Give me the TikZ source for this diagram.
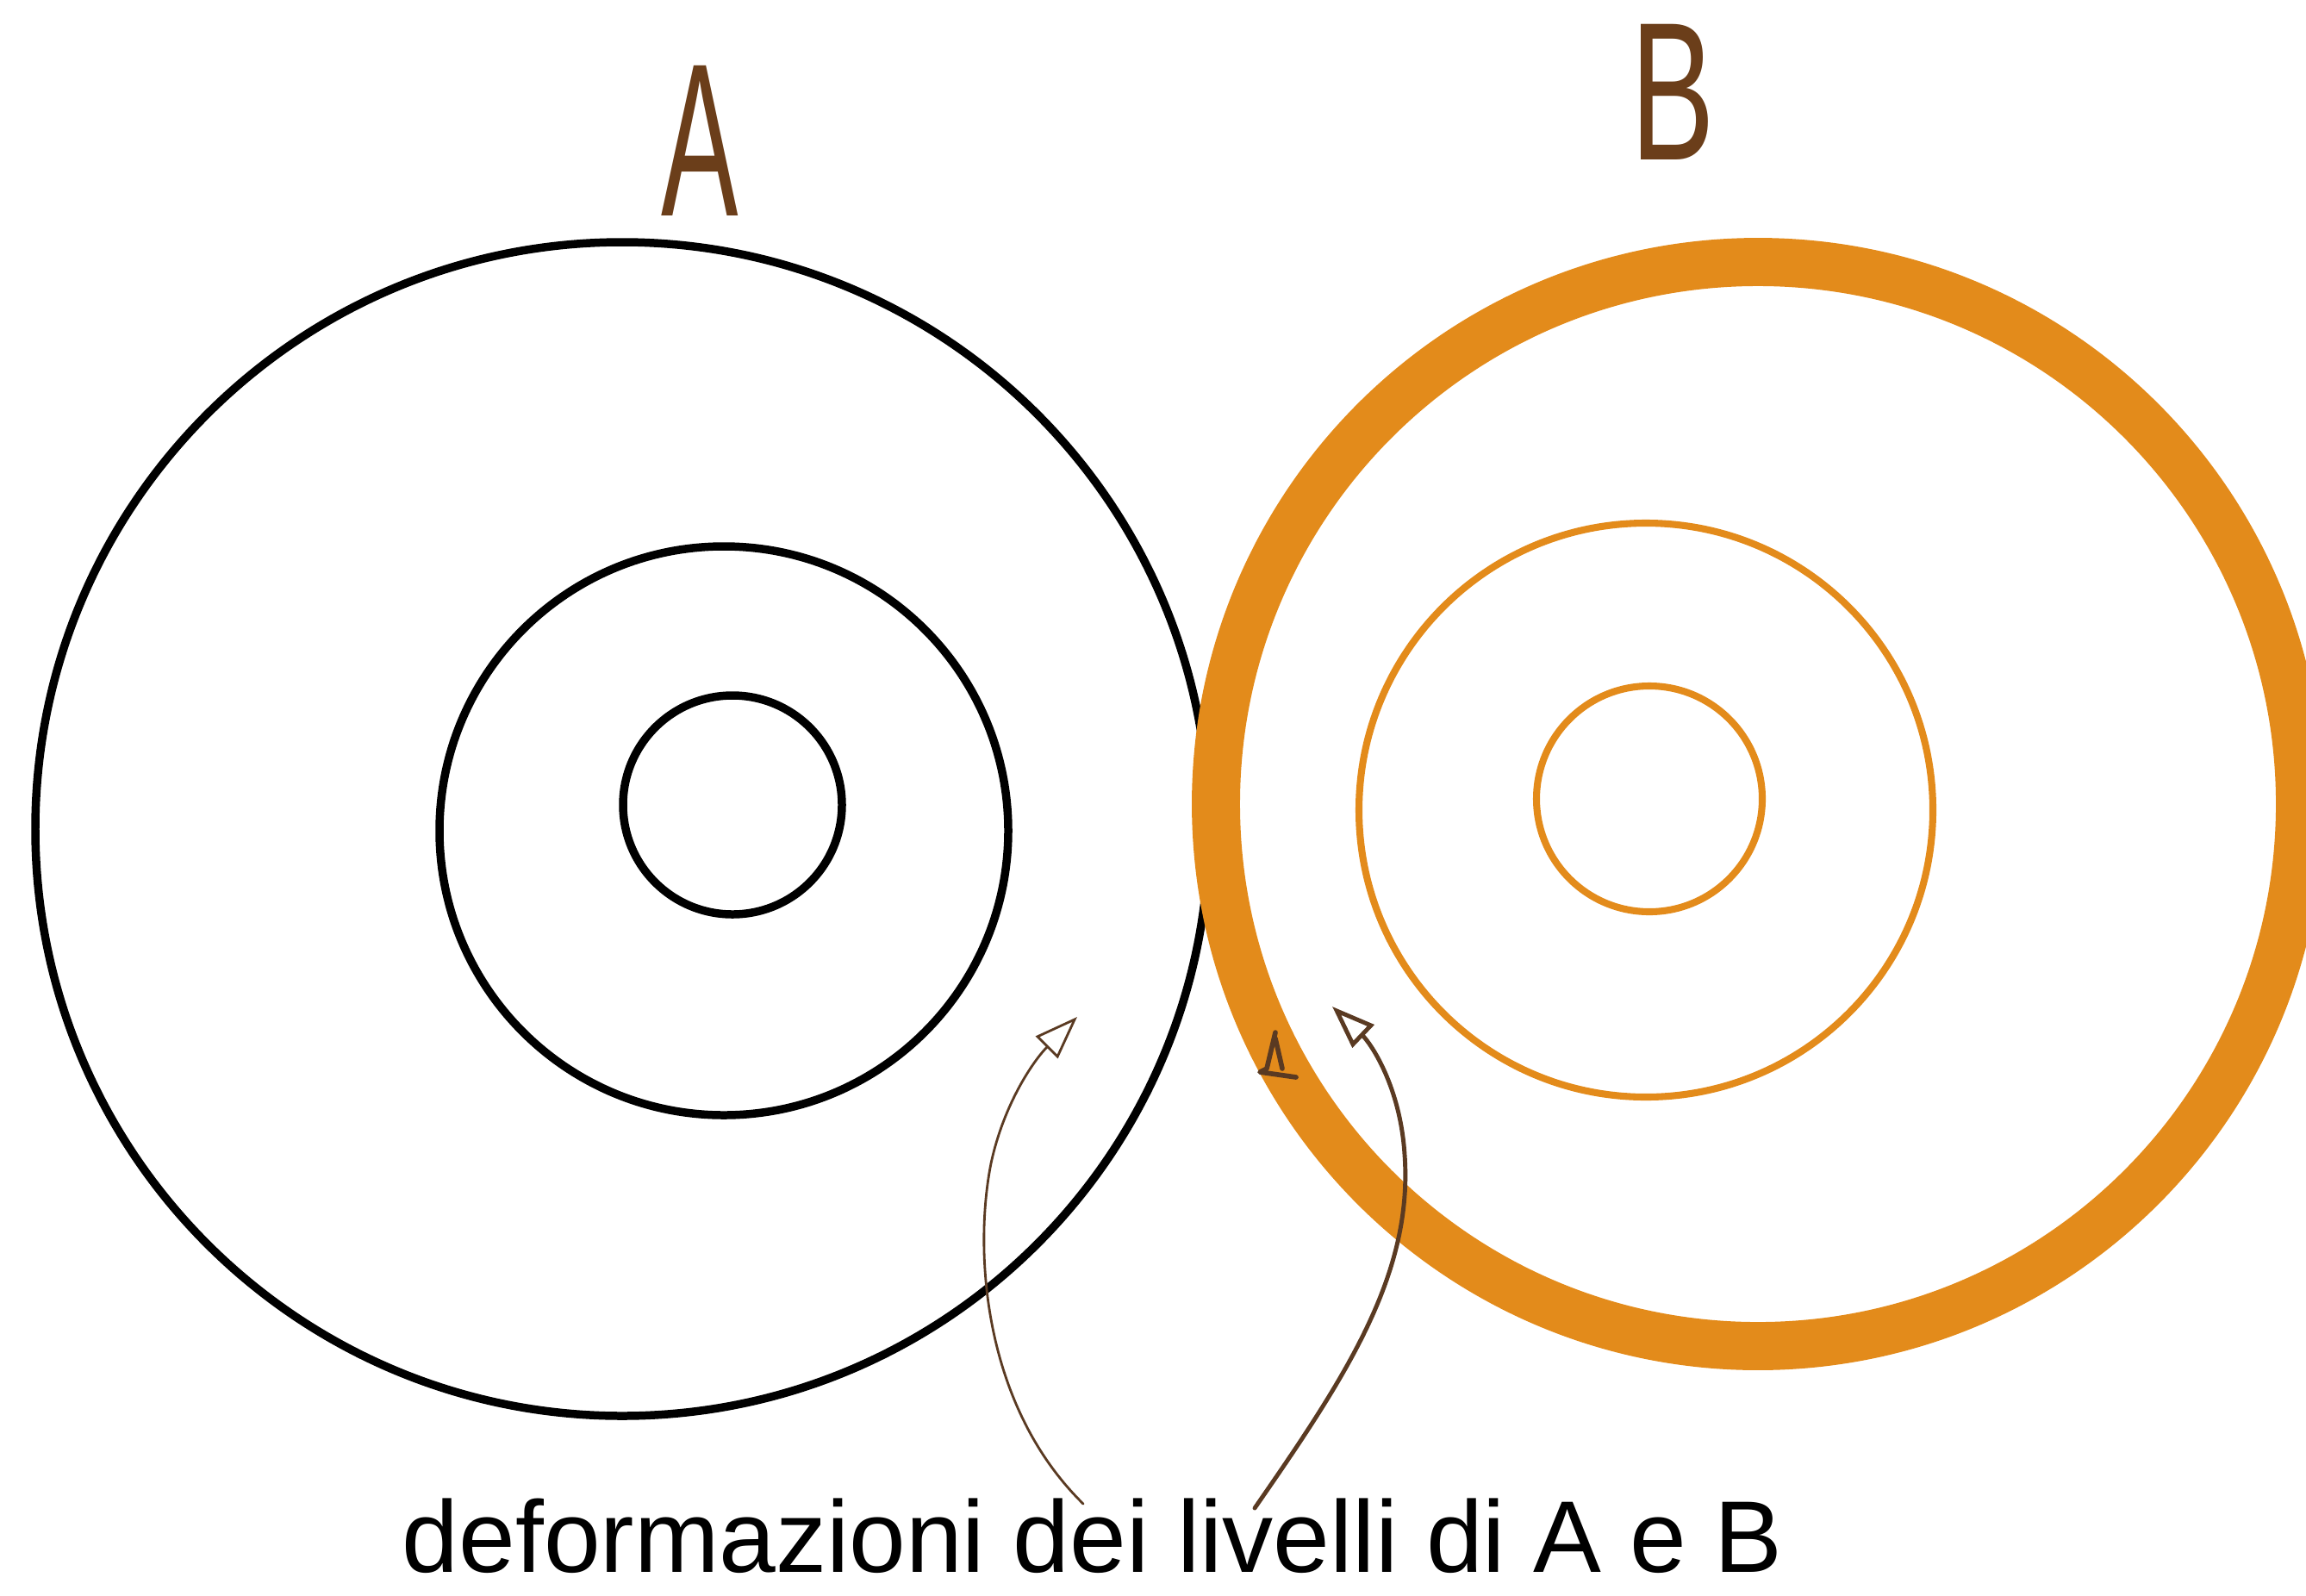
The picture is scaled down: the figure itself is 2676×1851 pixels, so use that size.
\documentclass[tikz,border=0pt]{standalone}
\usepackage{fontspec}
\setmainfont{Liberation Sans}
\usetikzlibrary{arrows.meta}
\definecolor{ringorange}{HTML}{E38B1B}
\definecolor{inkbrown}{HTML}{6B3E1A}
\definecolor{arrowbrown}{HTML}{5A3A22}

\begin{document}
\begin{tikzpicture}[x=0.01cm, y=-0.01cm,
	levelA/.style={line width=2.7pt, black},
	levelB/.style={line width=2.3pt, ringorange},
	ringB/.style={line width=15.9pt, ringorange},
	letter/.style={inkbrown, inner sep=0pt, anchor=base},
	deform/.style={arrowbrown, line cap=round, -{Triangle[open, length=5mm, width=3.6mm]}}]
	\useasboundingbox (0,0) rectangle (2676,1851);
	\coordinate (cA) at (722,962);
	\coordinate (cB) at (2040,933);
	\draw[levelA] (cA) circle (681);
	\draw[levelA] (840,964) circle (330);
	\draw[levelA] (850,934) circle (127);
	\draw[ringB] (cB) circle (629);
	\draw[levelB] (1910,940) circle (333);
	\draw[levelB] (1914,927) circle (131);
	\node[letter, font=\fontsize{72}{72}\selectfont] (labA) at (812,250) {\scalebox{0.53}[1]{A}};
	\node[letter, font=\fontsize{65}{65}\selectfont] (labB) at (1941,185) {\scalebox{0.64}[1]{B}};
	\node[inner sep=0pt, anchor=base, font=\fontsize{33.6}{40}\selectfont] (caption) at (1268,1824) {deformazioni dei livelli di A e B};
	\coordinate (s1) at (1257,1745);
	\coordinate (t1) at (1250,1180);
	\coordinate (s2) at (1456,1750);
	\coordinate (t2) at (1546,1168);
	\draw[deform, line width=0.8pt] (s1) .. controls (1140,1630) and (1130,1450) .. (1150,1350) .. controls (1165,1280) and (1200,1230) .. (t1);
	\draw[deform, line width=1.4pt] (s2) .. controls (1560,1600) and (1640,1480) .. (1630,1340) .. controls (1625,1260) and (1590,1210) .. (t2);
	\draw[arrowbrown, line width=1.6pt, line cap=round, line join=round] (1480,1198) -- (1470,1240) -- (1462,1244) -- (1504,1250) (1480,1205) -- (1488,1240);
\end{tikzpicture}
\end{document}
